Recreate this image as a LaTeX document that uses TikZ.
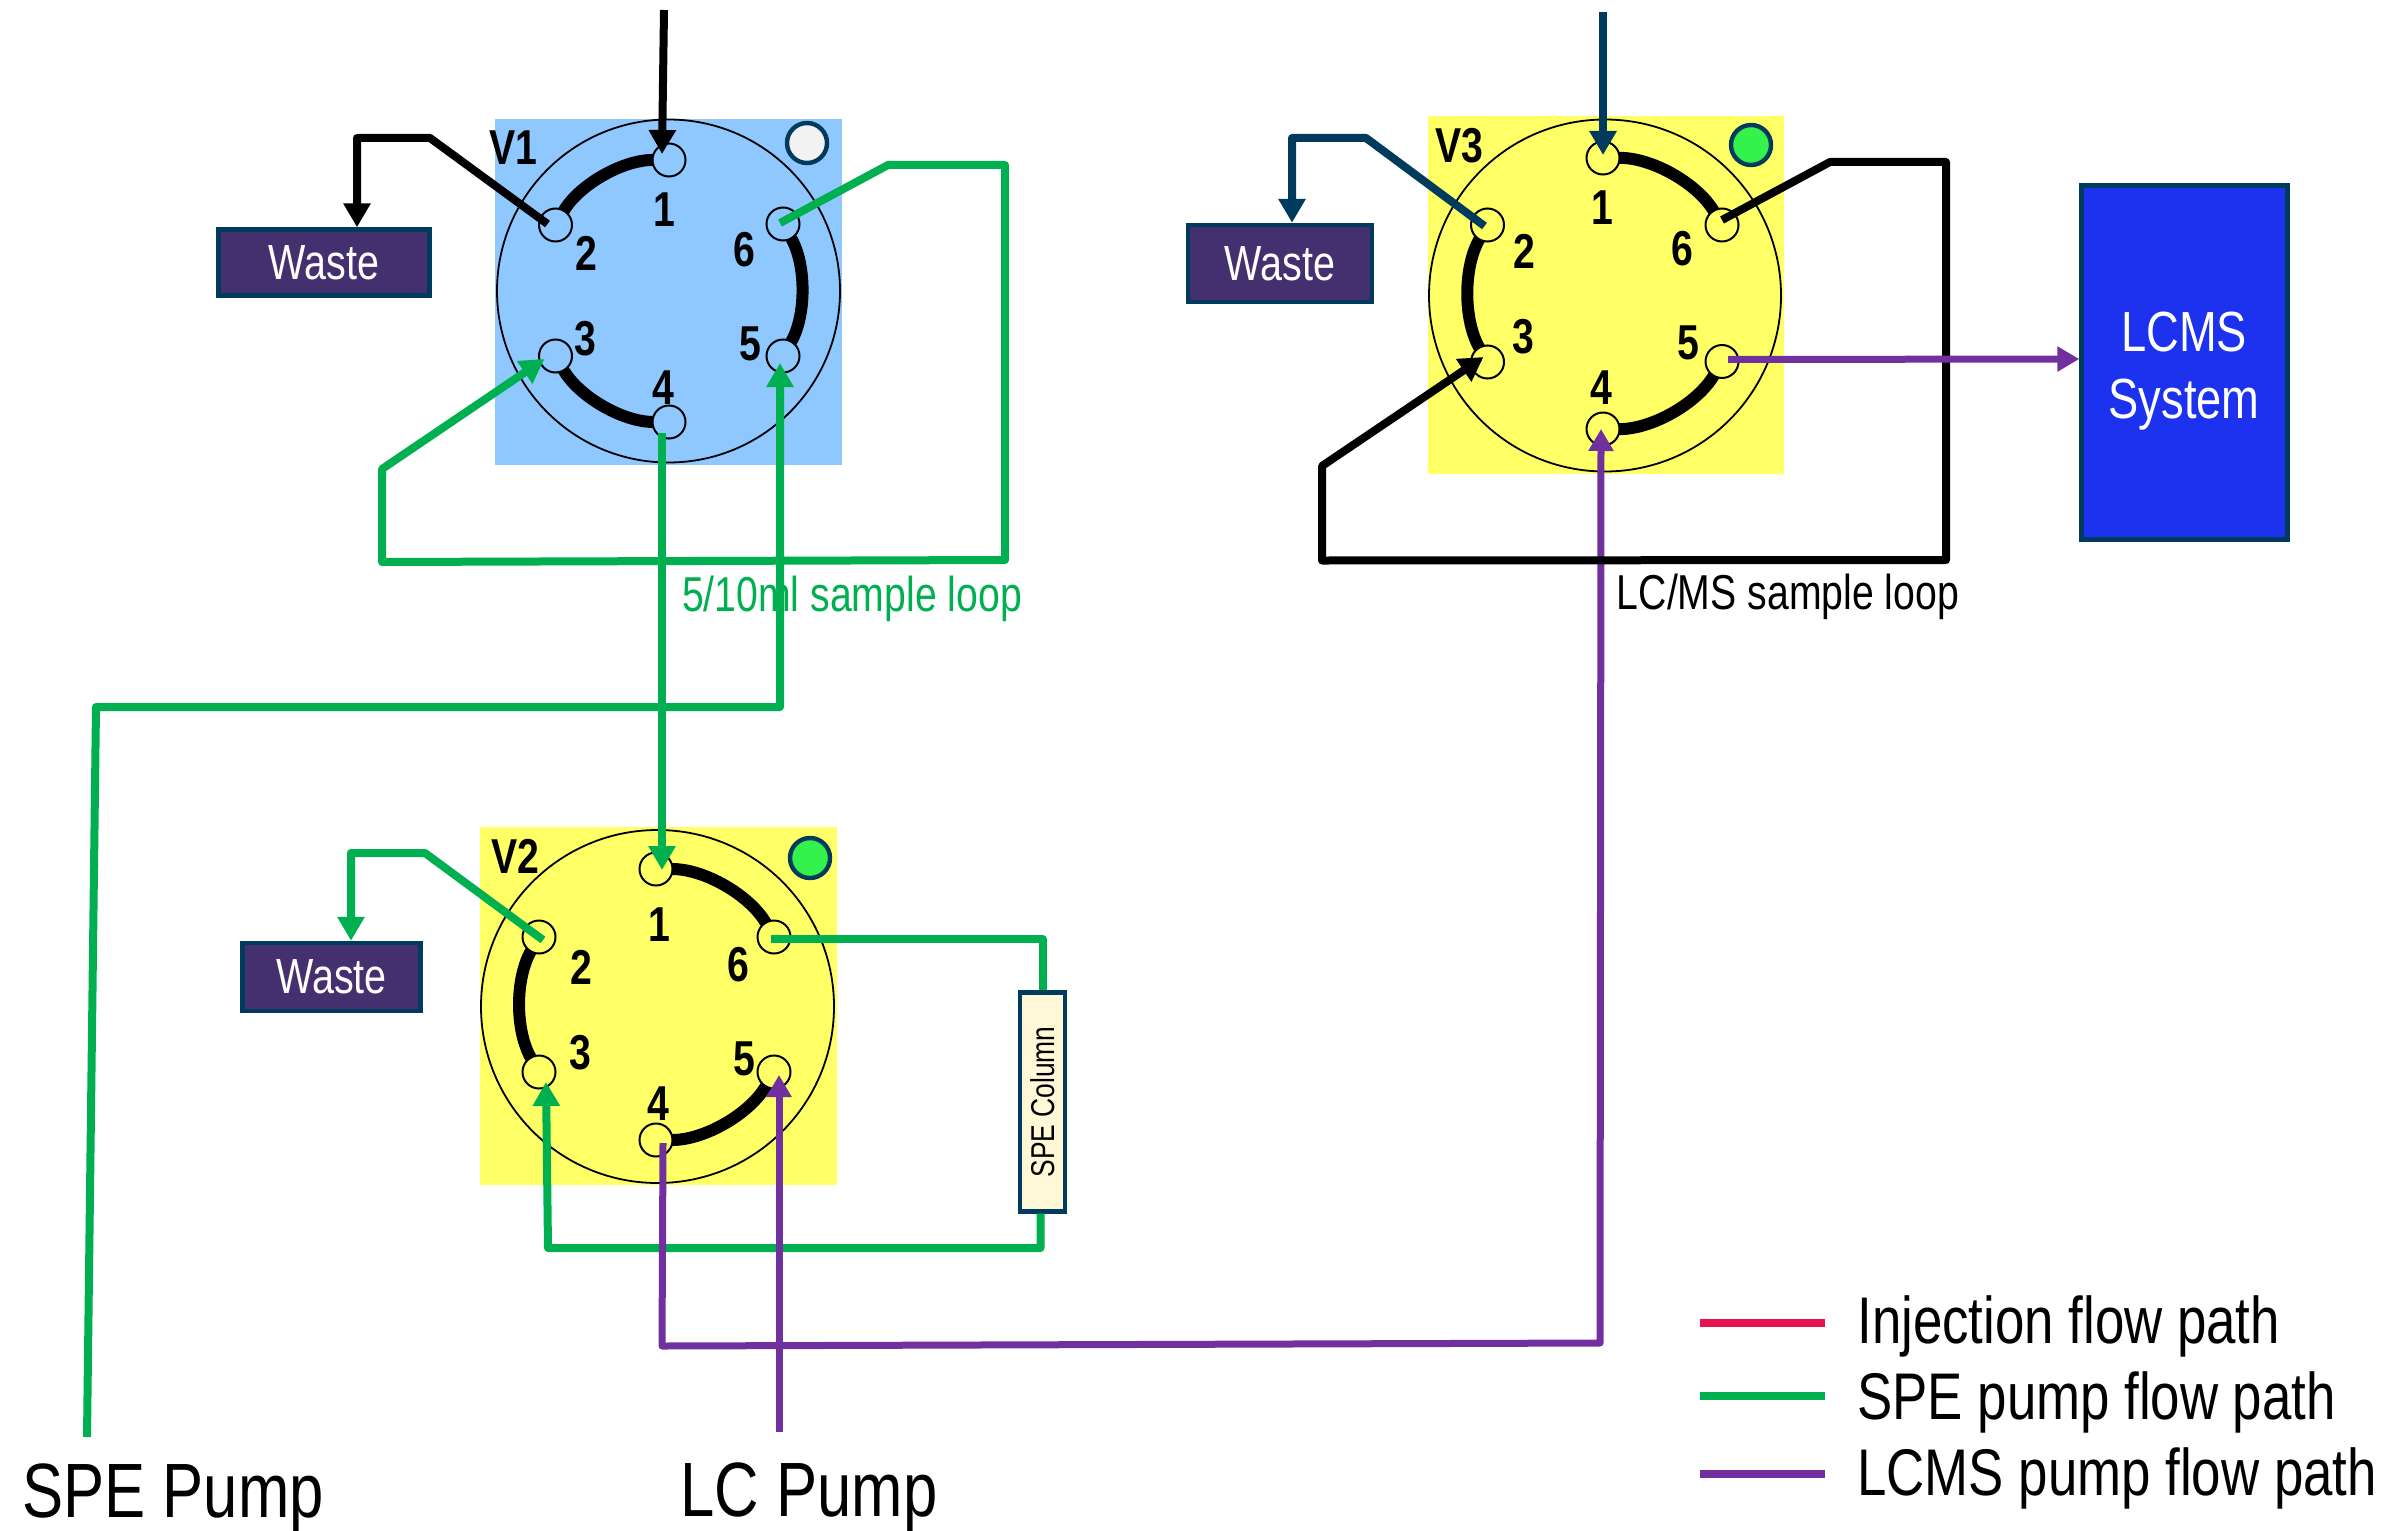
\documentclass[tikz,border=0pt]{standalone}
\usepackage{fontspec}
\usepackage{tikz}
\usepackage{xcolor}
\usetikzlibrary{arrows.meta,calc,positioning}
\setmainfont[FakeStretch=0.8]{Liberation Sans}
\definecolor{navy}{HTML}{003A5C}
\definecolor{spegreen}{HTML}{00B050}
\definecolor{lcpurple}{HTML}{7030A0}
\definecolor{injred}{HTML}{E8124F}
\definecolor{wastefill}{HTML}{44306F}
\definecolor{valveblue}{HTML}{8FC8FF}
\definecolor{valveyellow}{HTML}{FFFF66}
\definecolor{ledgreen}{HTML}{33F24C}
\definecolor{ledgrey}{HTML}{F2F2F2}
\definecolor{lcmsblue}{HTML}{1C32EE}
\definecolor{columnfill}{HTML}{FFF7D6}

\begin{document}
\begin{tikzpicture}[
      x=0.5pt,
      y=-0.5pt,
      plate/.style={draw=none, inner sep=0pt},
      dial/.style={circle, draw, line width=0.9pt, inner sep=0pt},
      port/.style={circle, draw, line width=1pt, minimum size=16.5pt, inner sep=0pt},
      portnum/.style={yshift=-0.7pt, font=\fontsize{24.5}{26}\selectfont\bfseries, inner sep=0pt},
      led/.style={circle, draw=navy, line width=2.2pt, minimum size=20pt, inner sep=0pt},
      groove/.style={line width=6pt, looseness=0.91},
      waste/.style={draw=navy, line width=2.2pt, fill=wastefill, text=white, font=\fontsize{24.7}{26}\selectfont, inner sep=0pt},
      caption/.style={font=\fontsize{38.5}{40}\selectfont, inner sep=0pt},
      keytext/.style={anchor=west, font=\fontsize{33}{35}\selectfont, inner sep=0pt},
      looptext/.style={font=\fontsize{24.5}{27}\selectfont, inner sep=0pt},
      wire/.style={line width=4pt, line join=round},
      arr/.style={wire, -{Triangle[length=12pt,width=13pt]}},
      thin arr/.style={line width=3.5pt, line join=round, -{Triangle[length=11pt,width=12pt]}}
  ]
    \useasboundingbox (0,0) rectangle (2385,1530);

    % V1
    \node[plate, fill=valveblue, minimum width=173.5pt, minimum height=173pt] (aPlate) at (668.5,292) {};
    \node[dial, minimum size=171.5pt] (aDial) at (668.5,291) {};
    \node[port] (a1) at (669,160) {};
    \node[port] (a2) at (555.5,225) {};
    \node[port] (a3) at (555.5,356) {};
    \node[port] (a4) at (669,422) {};
    \node[port] (a5) at (783,356) {};
    \node[port] (a6) at (783,224) {};
    \draw[groove, shorten <=8pt, shorten >=8pt] (a1.center) to[bend right=30] (a2.center);
    \draw[groove, shorten <=8pt, shorten >=8pt] (a3.center) to[bend right=30] (a4.center);
    \draw[groove, shorten <=8pt, shorten >=8pt] (a5.center) to[bend right=30] (a6.center);
    \node[portnum] (aNum1) at (664.5,208) {1};
    \node[portnum] (aNum2) at (586,252) {2};
    \node[portnum] (aNum3) at (585,337) {3};
    \node[portnum] (aNum4) at (663,386) {4};
    \node[portnum] (aNum5) at (750,342) {5};
    \node[portnum] (aNum6) at (744,248) {6};
    \node[portnum] (aName) at (513,146) {V1};
    \node[led, fill=ledgrey] (aLed) at (807,143) {};

    % V2
    \node[plate, fill=valveyellow, minimum width=178.5pt, minimum height=179pt] (bPlate) at (658.5,1006) {};
    \node[dial, minimum size=176.5pt] (bDial) at (657.5,1006.5) {};
    \node[port] (b1) at (656,869) {};
    \node[port] (b2) at (539,937) {};
    \node[port] (b3) at (539,1072) {};
    \node[port] (b4) at (656,1140) {};
    \node[port] (b5) at (774,1072) {};
    \node[port] (b6) at (774,937) {};
    \draw[groove, shorten <=8pt, shorten >=8pt] (b1.center) to[bend left=30] (b6.center);
    \draw[groove, shorten <=8pt, shorten >=8pt] (b2.center) to[bend right=30] (b3.center);
    \draw[groove, shorten <=8pt, shorten >=8pt] (b4.center) to[bend right=30] (b5.center);
    \node[portnum] (bNum1) at (659,923) {1};
    \node[portnum] (bNum2) at (581,966) {2};
    \node[portnum] (bNum3) at (580,1051) {3};
    \node[portnum] (bNum4) at (658,1102) {4};
    \node[portnum] (bNum5) at (744,1057) {5};
    \node[portnum] (bNum6) at (738.5,963) {6};
    \node[portnum] (bName) at (515.5,855) {V2};
    \node[led, fill=ledgreen] (bLed) at (810,858) {};

    % V3
    \node[plate, fill=valveyellow, minimum width=178pt, minimum height=179pt] (cPlate) at (1606,295) {};
    \node[dial, minimum size=176pt] (cDial) at (1605,295.5) {};
    \node[port] (c1) at (1603,158) {};
    \node[port] (c2) at (1487.5,225) {};
    \node[port] (c3) at (1487.5,362) {};
    \node[port] (c4) at (1603,429) {};
    \node[port] (c5) at (1722,361.5) {};
    \node[port] (c6) at (1722,225) {};
    \draw[groove, shorten <=8pt, shorten >=8pt] (c1.center) to[bend left=30] (c6.center);
    \draw[groove, shorten <=8pt, shorten >=8pt] (c2.center) to[bend right=30] (c3.center);
    \draw[groove, shorten <=8pt, shorten >=8pt] (c4.center) to[bend right=30] (c5.center);
    \node[portnum] (cNum1) at (1602,206.5) {1};
    \node[portnum] (cNum2) at (1524,250) {2};
    \node[portnum] (cNum3) at (1523.5,335) {3};
    \node[portnum] (cNum4) at (1601.5,386) {4};
    \node[portnum] (cNum5) at (1688,341) {5};
    \node[portnum] (cNum6) at (1682,247.5) {6};
    \node[portnum] (cName) at (1459,144) {V3};
    \node[led, fill=ledgreen] (cLed) at (1751,145) {};

    % boxes
    \node[waste, minimum width=105.5pt, minimum height=33pt] (aWaste) at (324,262.5) {Waste};
    \node[waste, minimum width=89pt, minimum height=34pt] (bWaste) at (331.5,977) {Waste};
    \node[waste, minimum width=92pt, minimum height=38.5pt] (cWaste) at (1280,263.5) {Waste};
    \node[draw=navy, line width=2.2pt, fill=lcmsblue, minimum width=103pt, minimum height=177pt] (lcms) at (2184.5,362.5) {};
    \node[text=white, align=center, inner sep=0pt, font=\fontsize{28.3}{33.5}\selectfont] (lcmsText) at (2184,371) {LCMS\\System};
    \node[draw=navy, line width=2.2pt, fill=columnfill, rotate=90, minimum width=109.5pt, minimum height=22.5pt, inner sep=0pt, font=\fontsize{16.5}{18}\selectfont] (column) at (1042.5,1102) {SPE Column};

    % texts
    \node[looptext, text=spegreen] (aLoop) at (852,599) {5/10ml sample loop};
    \node[looptext] (cLoop) at (1788,597) {LC/MS sample loop};
    \node[caption] (spePump) at (173,1499) {SPE Pump};
    \node[caption] (lcPump) at (809,1498) {LC Pump};
    \node[keytext] (keyInj) at (1857,1326) {Injection flow path};
    \node[keytext] (keySpe) at (1857,1402) {SPE pump flow path};
    \node[keytext] (keyLcms) at (1857,1478) {LCMS pump flow path};

    % free ends
    \coordinate (aIn) at (664,10);
    \coordinate (cIn) at (1603,12);
    \coordinate (speIn) at (87,1437);
    \coordinate (lcIn) at (779,1432);
    \coordinate (inj) at (1700,1323);
    \coordinate (spe) at (1700,1396);
    \coordinate (lc) at (1700,1474);

    % V1 wires
    \draw[arr] (aIn) -- ($(a1)+(-7,-6)$);
    \draw[arr] ($(a2)+(-8,-1)$) -- (430,138) -- (357,138) -- (aWaste.north -| 357,0);
    \draw[arr, spegreen] ($(a6)+(-3,-1)$) -- (888,165) -- (1005,165) -- (1005,560) -- (382,562) -- (382,469) -- ($(a3)+(-11,3)$);
    \draw[arr, spegreen] (speIn) -- (96,707) -- (780,707) -- ($(a5)+(-3,7)$);
    \draw[arr, spegreen] ($(a4)+(-7,11)$) -- ($(b1)+(6,1)$);

    % V2 wires
    \draw[arr, spegreen] ($(b2)+(4,3)$) -- (425,853) -- (351,853) -- (bWaste.north -| 351,0);
    \draw[wire, spegreen] ($(b6)+(-3,2)$) -| (column.east);
    \draw[arr, spegreen] ($(column.west)+(-2,0)$) |- (548,1248) -- ($(b3)+(7,10)$);
    \draw[thin arr, lcpurple] (lcIn) -- ($(b5)+(5,3)$);
    \draw[thin arr, lcpurple] ($(b4)+(7,3)$) -- (662,1346) -- (1600,1343) -- ($(c4)+(-2,0)$);

    % V3 wires
    \draw[arr, navy] (cIn) -- ($(c1)+(0,-3)$);
    \draw[arr, navy] ($(c2)+(-3,1)$) -- (1366,138) -- (1292,138) -- (cWaste.north -| 1292,0);
    \draw[arr] ($(c6)+(0,-5)$) -- (1830,162) -- (1946,162) -- (1946,560) -- (1322,560.5) -- (1322,466) -- ($(c3)+(-4,-5)$);
    \draw[thin arr, lcpurple] ($(c5)+(6,-2)$) -- (lcms.west |- 0,359);

    % key
    \draw[wire, injred] (inj) -- ++(125,0);
    \draw[wire, spegreen] (spe) -- ++(125,0);
    \draw[wire, lcpurple] (lc) -- ++(125,0);
\end{tikzpicture}
\end{document}
